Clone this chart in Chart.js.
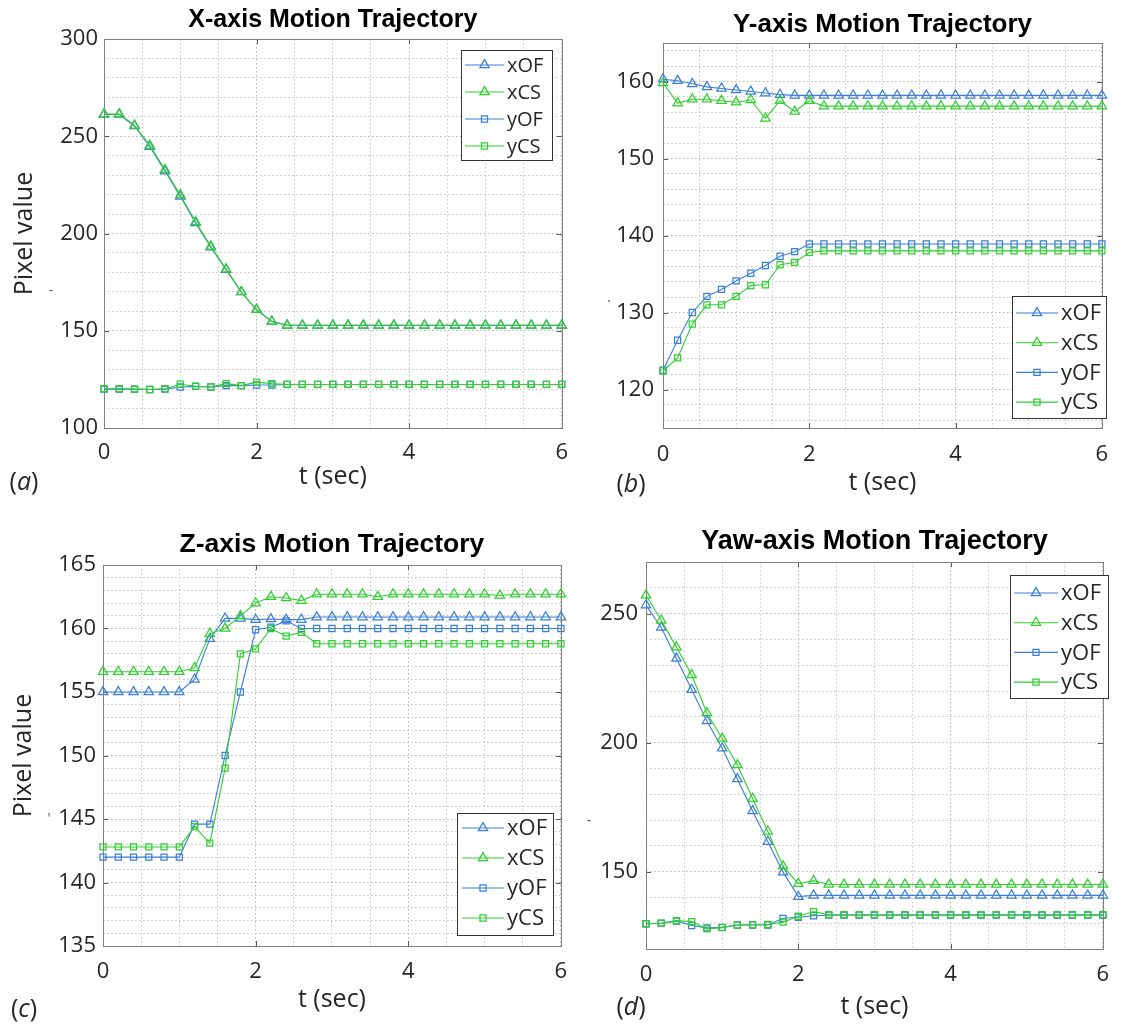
<!DOCTYPE html>
<html><head><meta charset="utf-8">
<script src="https://cdn.jsdelivr.net/npm/chart.js@4.4.0/dist/chart.umd.min.js"></script>
<style>
html,body{margin:0;padding:0;background:#fff;}
body{width:1122px;height:1032px;position:relative;overflow:hidden;}
canvas{position:absolute;}
.lbl{position:absolute;font-family:"Open Sans",sans-serif;font-size:25px;color:#262626;transform:translate(-50%,-50%);white-space:nowrap;line-height:1;}
.art{position:absolute;font-family:"Open Sans",sans-serif;font-size:14px;color:#555;transform:translate(-50%,-50%);line-height:1;}
</style></head><body>
<canvas id="ca" width="580" height="500" style="left:0;top:0"></canvas>
<canvas id="cb" width="552" height="500" style="left:570px;top:0"></canvas>
<canvas id="cc" width="580" height="522" style="left:0;top:510px"></canvas>
<canvas id="cd" width="552" height="522" style="left:570px;top:510px"></canvas>
<div class="lbl" style="left:24px;top:480px">(<i>a</i>)</div>
<div class="lbl" style="left:631px;top:482px">(<i>b</i>)</div>
<div class="lbl" style="left:24px;top:1007px">(<i>c</i>)</div>
<div class="lbl" style="left:631px;top:1005px">(<i>d</i>)</div>
<div class="art" style="left:51px;top:290px">-</div>
<div class="art" style="left:609px;top:297px">.</div>
<div class="art" style="left:49px;top:818px">'</div>
<div class="art" style="left:589px;top:820px">-</div>
<script>
// ---- data ----
const T = [0,0.2,0.4,0.6,0.8,1.0,1.2,1.4,1.6,1.8,2.0,2.2,2.4,2.6,2.8,3.0,3.2,3.4,3.6,3.8,4.0,4.2,4.4,4.6,4.8,5.0,5.2,5.4,5.6,5.8,6.0];
const seriesNames = ['xOF','xCS','yOF','yCS'];

// (a) X-axis
const xOF_a = [261.2,261.2,255.3,244.6,232.1,219.1,205.4,193.0,181.4,169.9,160.8,154.8,152.8,152.8,152.8,152.8,152.8,152.8,152.8,152.8,152.8,152.8,152.8,152.8,152.8,152.8,152.8,152.8,152.8,152.8,152.8];
const xCS_a = [261.4,261.4,255.6,245.3,232.8,219.8,206.0,193.4,181.7,169.9,160.8,154.7,152.8,152.8,152.8,152.8,152.8,152.8,152.8,152.8,152.8,152.8,152.8,152.8,152.8,152.8,152.8,152.8,152.8,152.8,152.8];
const yOF_a = [120.0,120.0,120.0,119.8,120.0,121.1,121.4,121.1,121.8,121.8,122.1,122.1,122.4,122.4,122.4,122.4,122.4,122.4,122.4,122.4,122.4,122.4,122.4,122.4,122.4,122.4,122.4,122.4,122.4,122.4,122.4];
const yCS_a = [120.2,120.2,120.0,119.8,120.2,122.5,121.5,121.1,122.8,121.8,123.6,122.8,122.4,122.4,122.4,122.4,122.4,122.4,122.4,122.4,122.4,122.4,122.4,122.4,122.4,122.4,122.4,122.4,122.4,122.4,122.4];

// (b) Y-axis
const xOF_b = [160.3,160.1,159.7,159.3,159.1,158.9,158.7,158.5,158.3,158.2,158.2,158.2,158.2,158.2,158.2,158.2,158.2,158.2,158.2,158.2,158.2,158.2,158.2,158.2,158.2,158.2,158.2,158.2,158.2,158.2,158.2];
const xCS_b = [159.8,157.2,157.7,157.7,157.5,157.3,157.6,155.2,157.5,156.1,157.5,156.8,156.8,156.8,156.8,156.8,156.8,156.8,156.8,156.8,156.8,156.8,156.8,156.8,156.8,156.8,156.8,156.8,156.8,156.8,156.8];
const yOF_b = [122.5,126.4,130.0,132.1,133.0,134.1,135.1,136.1,137.3,137.9,138.9,138.9,138.9,138.9,138.9,138.9,138.9,138.9,138.9,138.9,138.9,138.9,138.9,138.9,138.9,138.9,138.9,138.9,138.9,138.9,138.9];
const yCS_b = [122.4,124.1,128.5,131.0,131.0,132.1,133.5,133.6,136.2,136.5,137.8,138.0,138.0,138.0,138.0,138.0,138.0,138.0,138.0,138.0,138.0,138.0,138.0,138.0,138.0,138.0,138.0,138.0,138.0,138.0,138.0];

// (c) Z-axis
const xOF_c = [155.0,155.0,155.0,155.0,155.0,155.0,156.0,159.2,160.8,160.8,160.7,160.75,160.7,160.7,160.9,160.9,160.9,160.9,160.9,160.9,160.9,160.9,160.9,160.9,160.9,160.9,160.9,160.9,160.9,160.9,160.9];
const xCS_c = [156.6,156.6,156.6,156.6,156.6,156.6,156.9,159.6,160.0,161.0,162.0,162.5,162.4,162.2,162.7,162.7,162.7,162.7,162.5,162.7,162.7,162.7,162.7,162.7,162.7,162.7,162.6,162.7,162.7,162.7,162.7];
const yOF_c = [142.0,142.0,142.0,142.0,142.0,142.0,144.6,144.6,150.0,155.0,159.9,160.1,160.6,160.0,160.0,160.0,160.0,160.0,160.0,160.0,160.0,160.0,160.0,160.0,160.0,160.0,160.0,160.0,160.0,160.0,160.0];
const yCS_c = [142.8,142.8,142.8,142.8,142.8,142.8,144.4,143.1,149.0,158.0,158.4,160.0,159.4,159.7,158.8,158.8,158.8,158.8,158.8,158.8,158.8,158.8,158.8,158.8,158.8,158.8,158.8,158.8,158.8,158.8,158.8];

// (d) Yaw-axis
const xOF_d = [253.3,244.6,232.6,220.5,208.4,197.8,185.9,173.5,161.6,149.8,140.3,140.8,140.8,140.8,140.8,140.8,140.8,140.8,140.8,140.8,140.8,140.8,140.8,140.8,140.8,140.8,140.8,140.8,140.8,140.8,140.8];
const xCS_d = [257.1,247.4,237.0,226.2,211.5,201.6,191.3,178.3,165.6,152.1,145.3,146.5,145.0,145.0,145.0,145.0,145.0,145.0,145.0,145.0,145.0,145.0,145.0,145.0,145.0,145.0,145.0,145.0,145.0,145.0,145.0];
const yOF_d = [129.8,130.0,130.8,129.1,128.2,128.4,129.3,129.3,129.3,131.9,132.3,132.9,133.1,133.1,133.1,133.1,133.1,133.1,133.1,133.1,133.1,133.1,133.1,133.1,133.1,133.1,133.1,133.1,133.1,133.1,133.1];
const yCS_d = [129.8,130.0,131.0,130.6,127.8,128.3,129.3,129.4,129.5,130.4,132.7,134.5,133.3,133.3,133.3,133.3,133.3,133.3,133.3,133.3,133.3,133.3,133.3,133.3,133.3,133.3,133.3,133.3,133.3,133.3,133.3];

// tick labels
const xMajor = [0,2,4,6];
const yMajor_a = [100,150,200,250,300];
const yMajor_b = [120,130,140,150,160];
const yMajor_c = [135,140,145,150,155,160,165];
const yMajor_d = [150,200,250];

// ---- styling ----
const BLUE = '#3b7fd6';
const GREEN = '#2fcf2f';
const TXT = '#262626';

function range(a, b, s) { const r = []; for (let k = 0; a + k * s <= b + 1e-9; k++) r.push(+(a + k * s).toFixed(4)); return r; }

function mk(label, vals, color, style, order) {
  return {
    label, order,
    data: T.map((t, i) => ({x: t, y: vals[i]})),
    borderColor: color, backgroundColor: 'rgba(0,0,0,0)',
    borderWidth: 1.1, tension: 0, fill: false, clip: false,
    pointStyle: style, pointRadius: style === 'triangle' ? 5.4 : 4.3,
    pointHoverRadius: style === 'triangle' ? 5.4 : 4.3,
    pointBorderWidth: 1.25, pointBorderColor: color, pointBackgroundColor: 'rgba(0,0,0,0)'
  };
}

const framePlugin = {
  id: 'frame',
  beforeDatasetsDraw(chart, args, o) {
    const {ctx, chartArea: a, scales} = chart;
    ctx.save();
    ctx.strokeStyle = '#5a5a5a';
    ctx.lineWidth = 1;
    ctx.beginPath();
    const L = 5;
    for (const v of o.xMajor) {
      const px = Math.round(scales.x.getPixelForValue(v)) + 0.5;
      ctx.moveTo(px, a.bottom); ctx.lineTo(px, a.bottom - L);
      ctx.moveTo(px, a.top); ctx.lineTo(px, a.top + L);
    }
    for (const v of o.yMajor) {
      const py = Math.round(scales.y.getPixelForValue(v)) + 0.5;
      ctx.moveTo(a.left, py); ctx.lineTo(a.left + L, py);
      ctx.moveTo(a.right, py); ctx.lineTo(a.right - L, py);
    }
    ctx.stroke();
    ctx.strokeStyle = '#808080';
    ctx.strokeRect(Math.round(a.left) + 0.5, Math.round(a.top) + 0.5, Math.round(a.right - a.left), Math.round(a.bottom - a.top));
    ctx.restore();
  }
};

function marker(ctx, style, r, x, y) {
  ctx.beginPath();
  if (style === 'triangle') {
    for (let k = 0; k < 3; k++) {
      const rad = k * 2 * Math.PI / 3;
      const px = x + Math.sin(rad) * r, py = y - Math.cos(rad) * r;
      if (k === 0) ctx.moveTo(px, py); else ctx.lineTo(px, py);
    }
    ctx.closePath();
  } else {
    const s = r / Math.SQRT2;
    ctx.rect(x - s, y - s, 2 * s, 2 * s);
  }
  ctx.stroke();
}

const legendPlugin = {
  id: 'boxLegend',
  afterDatasetsDraw(chart, args, o) {
    const ctx = chart.ctx;
    const [bx, by, bw, bh] = o.box;
    ctx.save();
    ctx.fillStyle = '#fff';
    ctx.fillRect(bx, by, bw, bh);
    ctx.strokeStyle = '#333';
    ctx.lineWidth = 1;
    ctx.strokeRect(bx + 0.5, by + 0.5, bw, bh);
    ctx.font = o.font + 'px "Open Sans"';
    ctx.textBaseline = 'middle';
    ctx.textAlign = 'left';
    chart.data.datasets.forEach((ds, i) => {
      const y = o.row0 + i * o.step;
      ctx.strokeStyle = ds.borderColor;
      ctx.lineWidth = 1.1;
      ctx.beginPath(); ctx.moveTo(o.lineX[0], y); ctx.lineTo(o.lineX[1], y); ctx.stroke();
      ctx.lineWidth = 1.25;
      marker(ctx, ds.pointStyle, ds.pointRadius, (o.lineX[0] + o.lineX[1]) / 2, y);
      ctx.fillStyle = TXT;
      ctx.fillText(ds.label, o.textX, y + 1);
    });
    ctx.restore();
  }
};

function panel(id, c) {
  const datasets = [
    mk(seriesNames[0], c.s[0], BLUE, 'triangle', 4),
    mk(seriesNames[1], c.s[1], GREEN, 'triangle', 3),
    mk(seriesNames[2], c.s[2], BLUE, 'rect', 2),
    mk(seriesNames[3], c.s[3], GREEN, 'rect', 1)
  ];
  const xGrid = range(0, 6, 0.5);
  const yGrid = c.yGrid;
  const gridColor = (maj) => (ctx) => (ctx.tick && maj.includes(ctx.tick.value)) ? '#b4b4b4' : '#c6c6c6';
  new Chart(document.getElementById(id), {
    type: 'line',
    data: {datasets},
    plugins: [framePlugin, legendPlugin],
    options: {
      responsive: false, animation: false, devicePixelRatio: 1,
      layout: {padding: {left: 0, top: 0, right: c.padR, bottom: 0}},
      plugins: {
        legend: {display: false}, tooltip: {enabled: false},
        title: {display: true, text: c.title, fullSize: false, color: '#000',
          font: {family: '"Liberation Sans", Arial, sans-serif', size: c.titleSize, weight: 'bold', lineHeight: 1.2},
          padding: {top: c.titlePad[0], bottom: c.titlePad[1]}},
        frame: {xMajor, yMajor: c.yMajor},
        boxLegend: c.legend
      },
      scales: {
        x: {
          type: 'linear', min: 0, max: 6,
          afterBuildTicks: s => { s.ticks = xGrid.map(v => ({value: v})); },
          afterFit: s => { s.height = c.xH; },
          grid: {drawTicks: false, color: gridColor(xMajor), lineWidth: 1},
          border: {display: false, dash: [1.5, 2.5]},
          ticks: {autoSkip: false, maxRotation: 0, minRotation: 0, padding: c.xPad, color: TXT,
            font: {family: '"Open Sans"', size: 22},
            callback: v => xMajor.includes(v) ? String(v) : ''},
          title: {display: true, text: 't (sec)', color: TXT, font: {family: '"Open Sans"', size: 25, lineHeight: 1.2},
            padding: {top: 0, bottom: c.xTitlePad}}
        },
        y: {
          type: 'linear', min: c.yMin, max: c.yMax,
          afterBuildTicks: s => { s.ticks = yGrid.map(v => ({value: v})); },
          afterFit: s => { s.width = c.yW; },
          grid: {drawTicks: false, color: gridColor(c.yMajor), lineWidth: 1},
          border: {display: false, dash: [1.5, 2.5]},
          ticks: {autoSkip: false, padding: c.yPad, color: TXT,
            font: {family: '"Open Sans"', size: 22},
            callback: v => c.yMajor.includes(v) ? String(v) : ''},
          title: {display: c.yTitle, text: 'Pixel value', color: TXT, font: {family: '"Open Sans"', size: 25, lineHeight: 1.2},
            padding: {top: c.yTitlePad, bottom: 0}}
        }
      }
    }
  });
}

panel('ca', {title: 'X-axis Motion Trajectory', titleSize: 25, s: [xOF_a, xCS_a, yOF_a, yCS_a],
  yMin: 100, yMax: 300, yGrid: range(100, 300, 10), yMajor: yMajor_a,
  padR: 18, yW: 104, xH: 72, titlePad: [5, 4], xPad: 12, xTitlePad: 8, yPad: 6, yTitle: true, yTitlePad: 10,
  legend: {box: [461, 50, 91, 110], row0: 65, step: 27, lineX: [465, 504], textX: 507, font: 20}});

panel('cb', {title: 'Y-axis Motion Trajectory', titleSize: 26, s: [xOF_b, xCS_b, yOF_b, yCS_b],
  yMin: 115, yMax: 165, yGrid: [115].concat(range(116, 164, 2), [165]), yMajor: yMajor_b,
  padR: 7, yW: 93, xH: 72, titlePad: [9.4, 2.4], xPad: 13.8, xTitlePad: 2, yPad: 9, yTitle: false, yTitlePad: 0,
  legend: {box: [442, 296, 94, 122], row0: 313, step: 29.7, lineX: [446, 488], textX: 491, font: 22}});

panel('cc', {title: 'Z-axis Motion Trajectory', titleSize: 26.5, s: [xOF_c, xCS_c, yOF_c, yCS_c],
  yMin: 135, yMax: 165, yGrid: range(135, 165, 1), yMajor: yMajor_c,
  padR: 14, yW: 103, xH: 86, titlePad: [19.1, 4.1], xPad: 12.8, xTitlePad: 17, yPad: 7, yTitle: true, yTitlePad: 9,
  legend: {box: [457, 303, 96, 122], row0: 318, step: 30, lineX: [462, 504], textX: 507, font: 22}});

panel('cd', {title: 'Yaw-axis Motion Trajectory', titleSize: 27, s: [xOF_d, xCS_d, yOF_d, yCS_d],
  yMin: 120, yMax: 270, yGrid: range(120, 270, 10), yMajor: yMajor_d,
  padR: 6, yW: 76, xH: 83, titlePad: [15.8, 3.8], xPad: 12.8, xTitlePad: 10, yPad: 8, yTitle: false, yTitlePad: 0,
  legend: {box: [440, 65, 98, 123], row0: 83, step: 29.7, lineX: [444, 488], textX: 491, font: 22}});
</script>
</body></html>
